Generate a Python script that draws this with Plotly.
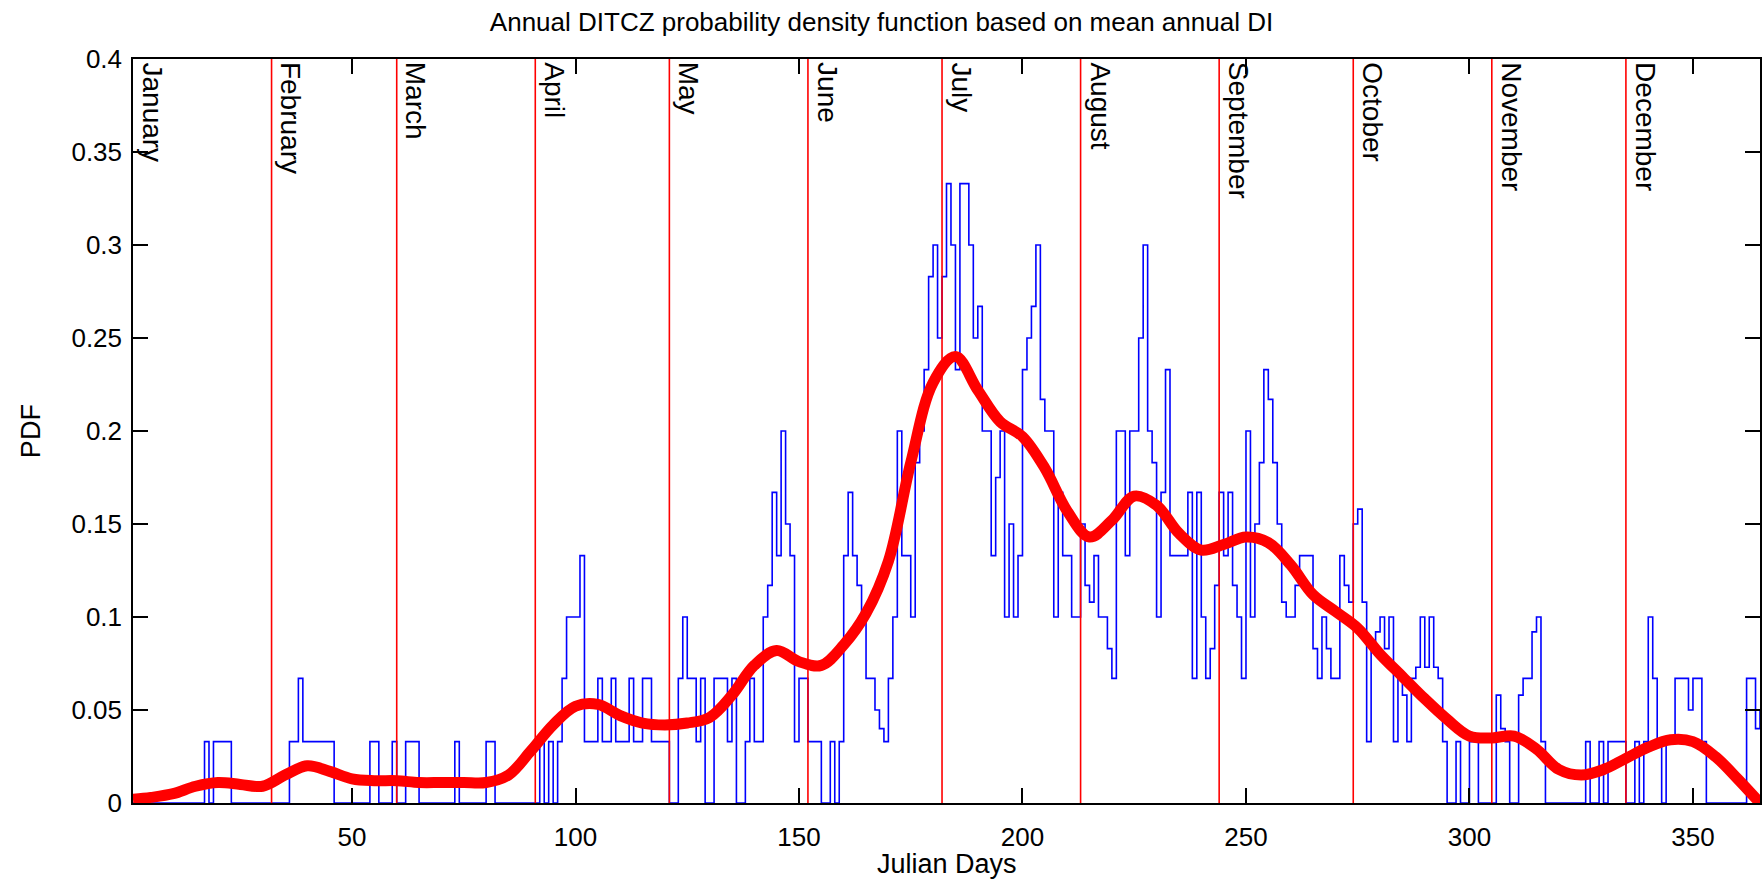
import plotly.graph_objects as go

# Day of year (1..365) for the daily PDF series
days = list(range(1, 366))

# Daily DITCZ probability density (blue trace), 10 days per row
pdf_daily = [
    0, 0, 0, 0, 0, 0, 0, 0, 0, 0,
    0, 0, 0, 0, 0, 0, 0.033, 0, 0.033, 0.033,
    0.033, 0.033, 0, 0, 0, 0, 0, 0, 0, 0,
    0, 0, 0, 0, 0, 0.033, 0.033, 0.067, 0.033, 0.033,
    0.033, 0.033, 0.033, 0.033, 0.033, 0, 0, 0, 0, 0,
    0, 0, 0, 0.033, 0.033, 0, 0, 0, 0.033, 0,
    0, 0.033, 0.033, 0.033, 0, 0, 0, 0, 0, 0,
    0, 0, 0.033, 0, 0, 0, 0, 0, 0, 0.033,
    0.033, 0, 0, 0, 0, 0, 0, 0, 0, 0,
    0, 0.033, 0, 0.033, 0, 0.033, 0.067, 0.1, 0.1, 0.1,
    0.133, 0.033, 0.033, 0.033, 0.067, 0.033, 0.033, 0.067, 0.033, 0.033,
    0.033, 0.067, 0.033, 0.033, 0.067, 0.067, 0.033, 0.033, 0.033, 0.033,
    0, 0, 0.067, 0.1, 0.067, 0.067, 0.033, 0.067, 0, 0,
    0.067, 0.067, 0.067, 0.033, 0.067, 0, 0, 0.033, 0.067, 0.033,
    0.033, 0.1, 0.117, 0.167, 0.133, 0.2, 0.15, 0.133, 0.033, 0.067,
    0.067, 0.033, 0.033, 0.033, 0, 0, 0.033, 0, 0.033, 0.133,
    0.167, 0.133, 0.117, 0.1, 0.067, 0.067, 0.05, 0.04, 0.033, 0.067,
    0.1, 0.2, 0.133, 0.133, 0.1, 0.183, 0.2, 0.233, 0.283, 0.3,
    0.25, 0.283, 0.333, 0.3, 0.233, 0.333, 0.333, 0.3, 0.25, 0.267,
    0.2, 0.2, 0.133, 0.175, 0.2, 0.1, 0.15, 0.1, 0.133, 0.233,
    0.25, 0.267, 0.3, 0.217, 0.2, 0.2, 0.1, 0.167, 0.133, 0.133,
    0.1, 0.1, 0.15, 0.117, 0.108, 0.133, 0.1, 0.1, 0.083, 0.067,
    0.2, 0.2, 0.133, 0.2, 0.2, 0.25, 0.3, 0.2, 0.183, 0.1,
    0.167, 0.233, 0.133, 0.133, 0.133, 0.133, 0.167, 0.067, 0.167, 0.1,
    0.067, 0.083, 0.117, 0.167, 0.133, 0.167, 0.117, 0.1, 0.067, 0.2,
    0.1, 0.15, 0.183, 0.233, 0.217, 0.183, 0.15, 0.108, 0.1, 0.1,
    0.117, 0.133, 0.133, 0.133, 0.083, 0.067, 0.1, 0.083, 0.067, 0.067,
    0.133, 0.117, 0.108, 0.15, 0.158, 0.108, 0.033, 0.083, 0.092, 0.1,
    0.083, 0.1, 0.033, 0.067, 0.058, 0.033, 0.067, 0.073, 0.1, 0.073,
    0.1, 0.073, 0.067, 0.033, 0, 0, 0.033, 0, 0, 0.033,
    0.033, 0, 0, 0, 0, 0.058, 0.04, 0.033, 0, 0,
    0.058, 0.067, 0.067, 0.092, 0.1, 0.033, 0, 0, 0, 0,
    0, 0, 0, 0, 0, 0.033, 0, 0, 0.033, 0,
    0.033, 0.033, 0.033, 0.033, 0, 0, 0.033, 0, 0.033, 0.1,
    0.067, 0.033, 0, 0.033, 0.033, 0.067, 0.067, 0.067, 0.05, 0.067,
    0.067, 0.033, 0, 0, 0, 0, 0, 0, 0, 0,
    0, 0.067, 0.067, 0.04, 0.05,
]

# Smoothed PDF (thick red curve)
smooth_days = [1, 5, 10, 15, 20, 25, 30, 35, 40, 45, 50, 55, 60, 65, 70, 75, 80, 85,
               90, 95, 100, 105, 110, 115, 120, 125, 130, 135, 140, 145, 150, 155,
               160, 165, 170, 175, 180, 185, 190, 195, 200, 205, 210, 215, 220, 225,
               230, 235, 240, 245, 250, 255, 260, 265, 270, 275, 280, 285, 290, 295,
               300, 305, 310, 315, 320, 325, 330, 335, 340, 345, 350, 355, 360, 365]
smooth_pdf = [0.002, 0.003, 0.005, 0.009, 0.011, 0.010, 0.009, 0.015, 0.020, 0.017,
              0.013, 0.012, 0.012, 0.011, 0.011, 0.011, 0.011, 0.015, 0.028, 0.042,
              0.052, 0.053, 0.047, 0.043, 0.042, 0.043, 0.046, 0.058, 0.074, 0.082,
              0.076, 0.074, 0.085, 0.102, 0.130, 0.183, 0.226, 0.240, 0.222, 0.205,
              0.197, 0.180, 0.157, 0.143, 0.152, 0.165, 0.160, 0.145, 0.136, 0.139,
              0.143, 0.140, 0.128, 0.112, 0.103, 0.094, 0.080, 0.068, 0.056, 0.045,
              0.036, 0.035, 0.036, 0.029, 0.018, 0.015, 0.018, 0.024, 0.030, 0.034,
              0.033, 0.025, 0.013, 0.0]

# First day of each month
month_names = ["January", "February", "March", "April", "May", "June", "July",
               "August", "September", "October", "November", "December"]
month_start = [1, 32, 60, 91, 121, 152, 182, 213, 244, 274, 305, 335]

x_ticks = [50, 100, 150, 200, 250, 300, 350]
y_ticks = [0, 0.05, 0.1, 0.15, 0.2, 0.25, 0.3, 0.35, 0.4]
y_ticktext = ["0", "0.05", "0.1", "0.15", "0.2", "0.25", "0.3", "0.35", "0.4"]

FONT = "Liberation Sans, Arial, sans-serif"
FS_TICK = 26
FS_TITLE = 26
FS_MONTH = 28
FS_LABEL = 27

W, H = 1763, 884
ML, MR, MT, MB = 133, 1, 59, 81
PW = W - ML - MR
PH = H - MT - MB

fig = go.Figure()
# Daily values drawn as stairs
fig.add_trace(go.Scatter(x=days, y=pdf_daily, mode="lines",
                         line=dict(color="#0000FF", width=1.6, shape="hv"),
                         hoverinfo="skip", showlegend=False))
fig.add_trace(go.Scatter(x=smooth_days, y=smooth_pdf, mode="lines",
                         line=dict(color="#FF0000", width=11, shape="spline", smoothing=1.0),
                         hoverinfo="skip", showlegend=False))

# Month boundary lines (January sits on the axis)
for d in month_start[1:]:
    fig.add_shape(type="line", xref="x", yref="y", x0=d, x1=d, y0=0, y1=0.4,
                  line=dict(color="#FF0000", width=1.6), layer="above")

# Rotated month names at the top of each month
for name, d in zip(month_names, month_start):
    fig.add_annotation(x=d, y=0.4, xref="x", yref="y", text=name, showarrow=False,
                       textangle=90, xanchor="left", yanchor="top", xshift=2, yshift=-1,
                       font=dict(family=FONT, size=FS_MONTH, color="black"))

# Axis titles
fig.add_annotation(x=0.5, y=-(H - 3 - (H - MB)) / PH, xref="paper", yref="paper",
                   text="Julian Days", showarrow=False, xanchor="center", yanchor="bottom",
                   font=dict(family=FONT, size=FS_LABEL, color="black"))
fig.add_annotation(x=(31 - ML) / PW, y=0.5, xref="paper", yref="paper", text="PDF",
                   showarrow=False, textangle=-90, xanchor="center", yanchor="middle",
                   font=dict(family=FONT, size=FS_LABEL, color="black"))

fig.update_layout(
    width=W, height=H,
    margin=dict(l=ML, r=MR, t=MT, b=MB),
    paper_bgcolor="white", plot_bgcolor="white",
    font=dict(family=FONT, size=FS_TICK, color="black"),
    title=dict(text="Annual DITCZ probability density function based on mean annual DI",
               x=0.5, xref="container", xanchor="center",
               y=1 - 22 / H, yref="container", yanchor="middle",
               font=dict(family=FONT, size=FS_TITLE, color="black")),
)
fig.update_xaxes(range=[1, 365], tickvals=x_ticks, ticks="inside", ticklen=15,
                 tickwidth=1.5, tickcolor="black", showline=True, linecolor="black",
                 linewidth=1.5, mirror="ticks", showgrid=False, zeroline=False,
                 ticklabelstandoff=10,
                 tickfont=dict(family=FONT, size=FS_TICK, color="black"))
fig.update_yaxes(range=[0, 0.4], tickvals=y_ticks, ticktext=y_ticktext, ticks="inside",
                 ticklen=15, tickwidth=1.5, tickcolor="black", showline=True,
                 linecolor="black", linewidth=1.5, mirror="ticks", showgrid=False,
                 zeroline=False, ticklabelstandoff=4,
                 tickfont=dict(family=FONT, size=FS_TICK, color="black"))

fig.write_html("out.html")
